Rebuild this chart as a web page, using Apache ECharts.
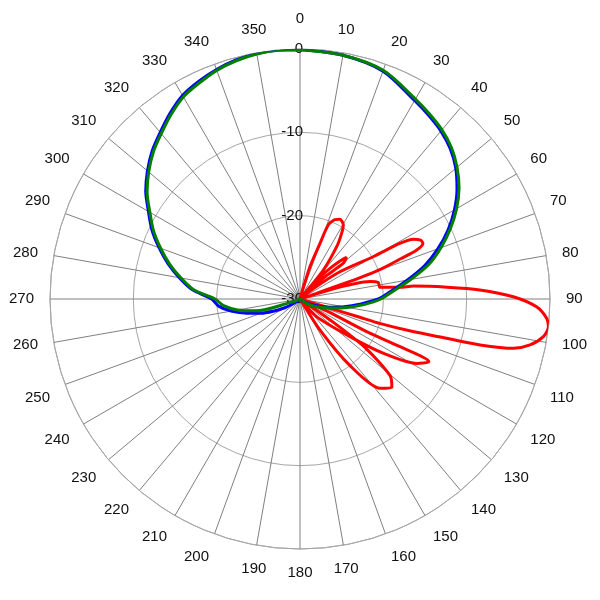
<!DOCTYPE html>
<html>
<head>
<meta charset="utf-8">
<script src="https://cdn.jsdelivr.net/npm/echarts@6/dist/echarts.min.js"></script>
<style>
html,body{margin:0;padding:0;background:#fff;}
#chart{width:600px;height:600px;}
</style>
</head>
<body>
<div id="chart"></div>
<script>
// Angles (degrees) shared by the blue and green patterns
const patternAngles = [0,10,20,30,35,40,45,50,55,60,65,70,75,80,85,90,95,100,105,110,115,120,125,130,
  180,225,230,235,240,245,250,255,260,265,270,275,280,285,290,295,300,305,310,315,320,325,330,335,340,345,350,355,360];
const greenDb = [-0.1,-0.3,-0.8,-2.3,-2.9,-3.5,-4.3,-5.4,-6.7,-8.3,-10.1,-12.0,-14.0,-16.5,-18.7,-20.3,-22.3,-24.2,-25.8,-27.0,-27.8,-28.5,-29.3,-30,
  -30,-30,-30,-30,-30,-29.6,-28.8,-24.5,-22.4,-20.8,-19.8,-17.2,-15.5,-13.8,-12.2,-10.6,-9.2,-7.6,-6.3,-5.1,-4.1,-3.0,-2.0,-1.4,-0.8,-0.4,-0.15,-0.05,-0.1];
const blueDb = [-0.05,-0.3,-0.9,-2.5,-3.1,-3.7,-4.5,-5.6,-7.0,-8.6,-10.4,-12.4,-14.5,-16.9,-19.0,-20.6,-22.8,-24.6,-26.2,-27.4,-28.3,-29.0,-29.6,-30,
  -30,-30,-29.7,-29.0,-27.9,-26.6,-25.0,-23.4,-21.6,-20.2,-19.4,-17.0,-15.3,-13.6,-12.0,-10.4,-9.0,-7.4,-6.1,-4.9,-3.9,-2.8,-1.8,-1.2,-0.7,-0.3,-0.1,0,-0.05];

// Red pattern traced in drawing order (angle, dB)
const redAngles = [0,16,17.2,19.8,20.9,23.7,26.6,30.3,32.4,35,38.8,39.5,
  40.3,44.3,46.9,48.2,50.5,48.5,45,46,
  52,55.7,60,60.9,62.2,64,65.6,67.2,68.2,69.8,70.5,70.7,71,72,
  75.5,76.1,78.2,81.7,83.3,83.5,85.4,87.1,89.4,91.9,94.5,96.4,98.8,101.3,103,104.3,105,106.1,107,107,107,108,
  112,114,116.1,115.5,115.9,118.9,123.1,127,136.7,138,
  123,125,126.9,130.4,133.9,138.1,143.1,147.2,149,360];
const redDb = [-30,-30,-25.9,-22.9,-20.5,-19.6,-19.3,-19.7,-20.7,-22.3,-25.5,-30,
  -27.5,-24.9,-23.1,-22.5,-23.3,-25.7,-28.2,-30,
  -28,-24.2,-19.8,-16.3,-14.6,-13.9,-13.8,-14.8,-17.0,-19.8,-22.5,-24.9,-28,-30,
  -30,-21.3,-20.4,-20.3,-17.9,-16.3,-12.3,-8.4,-4.4,-1.6,-0.3,0,-0.45,-1.85,-3.7,-7.7,-11.8,-15.9,-19.9,-22.5,-26.5,-30,
  -30,-26.5,-21.1,-16.7,-12.8,-14.0,-18.1,-22.5,-27.1,-30,
  -30,-25.1,-20,-15.8,-14.7,-15.6,-20,-25.6,-30,-30];

const radiusMin = -30, radiusMax = 0, radiusStep = 10;
const angleStep = 10;

function pairs(angles, values){ return angles.map((a,i)=>[values[i], a]); }

const chart = echarts.init(document.getElementById('chart'), null, {renderer:'canvas'});
const fontFamily = '"Liberation Sans", Arial, sans-serif';
chart.setOption({
  animation:false,
  backgroundColor:'#ffffff',
  polar:{center:[300,299], radius:250},
  angleAxis:{
    type:'value', min:0, max:360, interval:angleStep, startAngle:90, clockwise:true,
    axisLine:{show:true, lineStyle:{color:'#a6a6a6', width:1}},
    axisTick:{show:false},
    axisLabel:{show:true, margin:16, color:'#111', fontSize:15, fontFamily:fontFamily,
      formatter:function(v){ if (v===360) return ''; if (v===0) return '{top|0}'; return String(v); },
      rich:{top:{fontSize:15, fontFamily:fontFamily, color:'#111', padding:[0,0,7,0]}}},
    splitLine:{show:true, lineStyle:{color:'#808080', width:1}}
  },
  radiusAxis:{
    type:'value', min:radiusMin, max:radiusMax, interval:radiusStep,
    axisLine:{show:false}, axisTick:{show:false},
    axisLabel:{show:true, color:'#111', fontSize:15, fontFamily:fontFamily, margin:-3},
    splitLine:{show:true, lineStyle:{color:'#a6a6a6', width:1}}
  },
  series:[
    {type:'line', coordinateSystem:'polar', data:pairs(redAngles, redDb), showSymbol:false, smooth:0.25,
      lineStyle:{color:'#ff0000', width:3}, z:2},
    {type:'line', coordinateSystem:'polar', data:pairs(patternAngles, blueDb), showSymbol:false, smooth:0.3,
      lineStyle:{color:'#0000ff', width:3}, z:3},
    {type:'line', coordinateSystem:'polar', data:pairs(patternAngles, greenDb), showSymbol:false, smooth:0.3,
      lineStyle:{color:'#008000', width:3}, z:4}
  ]
});
</script>
</body>
</html>
